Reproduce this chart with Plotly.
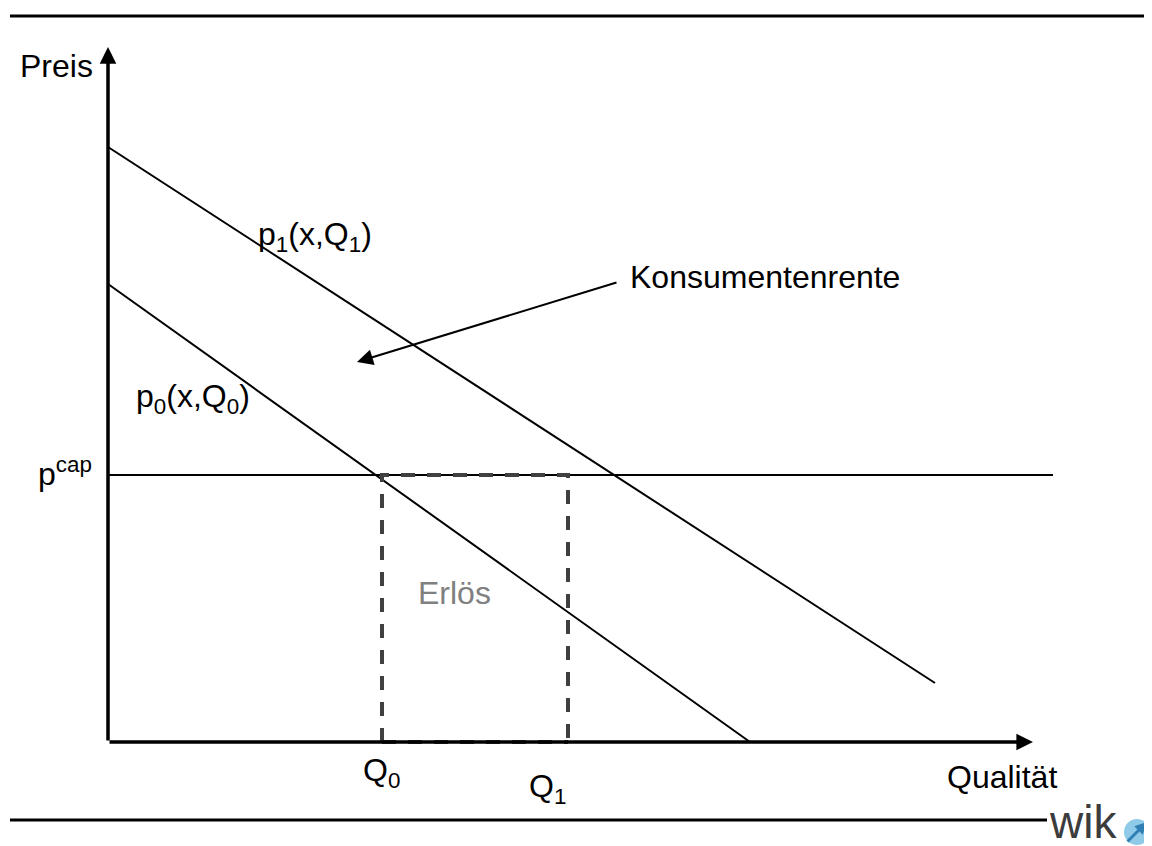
import plotly.graph_objects as go

# ── data (quantity units on x, price units on y) ─────────────────────────────
p1_x = [0.0, 82.7]
p1_y = [59.5, 5.9]
p0_x = [0.0, 64.2]
p0_y = [45.8, 0.0]
p_cap = 26.7
cap_x = [0.0, 94.5]
Q0 = 27.4
Q1 = 46.0
axis_x_end = 92.5
axis_y_end = 69.5
rente_tail = (51.0, 46.0)
rente_head = (24.9, 38.0)

FONT = "Liberation Sans, Arial, sans-serif"
INK = "#000000"
SIZE = 32

fig = go.Figure()

# demand curves
fig.add_trace(go.Scatter(x=p1_x, y=p1_y, mode="lines",
                         line=dict(color=INK, width=2)))
fig.add_trace(go.Scatter(x=p0_x, y=p0_y, mode="lines",
                         line=dict(color=INK, width=2)))
# price cap
fig.add_trace(go.Scatter(x=cap_x, y=[p_cap, p_cap], mode="lines",
                         line=dict(color=INK, width=2)))

# revenue box (dashed)
fig.add_trace(go.Scatter(x=[Q0, Q0, Q1, Q1], y=[0, p_cap, p_cap, 0], mode="lines",
                         line=dict(color="#404040", width=4, dash="14px,12px")))
fig.add_trace(go.Scatter(x=[Q0, Q1], y=[0, 0], mode="lines",
                         line=dict(color="#404040", width=4, dash="14px,12px")))

# header / footer rules
fig.add_trace(go.Scatter(x=[-9.8, 104.2], y=[72.6, 72.6], mode="lines",
                         line=dict(color=INK, width=3)))
fig.add_trace(go.Scatter(x=[-9.8, 93.9], y=[-7.8, -7.8], mode="lines",
                         line=dict(color=INK, width=3)))

# wik logo mark
fig.add_trace(go.Scatter(x=[102.9], y=[-9.0], mode="markers",
                         marker=dict(size=26, color="#8fcbe8", line=dict(width=0))))


def arrow(head, tail, width, head_style, size, color=INK):
    fig.add_annotation(x=head[0], y=head[1], ax=tail[0], ay=tail[1],
                       xref="x", yref="y", axref="x", ayref="y",
                       text="", showarrow=True, arrowcolor=color,
                       arrowwidth=width, arrowhead=head_style, arrowsize=size)


# axes with arrow heads
arrow((axis_x_end, 0), (0, 0), 3.5, 2, 0.95)
arrow((0, axis_y_end), (0, 0), 3.5, 2, 0.95)
# Konsumentenrente pointer
arrow(rente_head, rente_tail, 2, 2, 1.6)
# logo arrow
arrow((103.9, -8.0), (101.8, -10.1), 3, 2, 0.8, color="#2f7fb5")


def label(x, y, text, anchor="left", color=INK, size=SIZE, family=FONT):
    fig.add_annotation(x=x, y=y, xref="x", yref="y", text=text,
                       showarrow=False, xanchor=anchor, yanchor="middle",
                       font=dict(family=family, size=size, color=color))


label(-1.3, 67.6, "Preis", anchor="right")
label(14.8, 50.6, "p<sub>1</sub>(x,Q<sub>1</sub>)")
label(52.0, 46.5, "Konsumentenrente")
label(2.6, 34.4, "p<sub>0</sub>(x,Q<sub>0</sub>)")
label(-1.4, 27.0, "p<sup>cap</sup>", anchor="right")
label(34.6, 14.9, "Erlös", anchor="center", color="#808080")
label(25.3, -3.0, "Q<sub>0</sub>")
label(41.9, -4.6, "Q<sub>1</sub>")
label(95.1, -3.5, "Qualität", anchor="right")
label(97.5, -8.0, "wik", anchor="center", color="#3c3c3c", size=46,
      family="Liberation Sans Narrow, Arial Narrow, Liberation Sans, sans-serif")

# the page adds an 8px body margin: the figure is that much smaller and the
# ranges start 8px in, so the drawing lands where the reference has it
fig.update_layout(
    width=1144, height=838,
    margin=dict(l=0, r=0, t=0, b=0),
    paper_bgcolor="white", plot_bgcolor="white",
    showlegend=False,
    xaxis=dict(range=[-10.0, 104.4], visible=False, fixedrange=True),
    yaxis=dict(range=[-10.4, 73.4], visible=False, fixedrange=True),
)

fig.write_html("out.html")
